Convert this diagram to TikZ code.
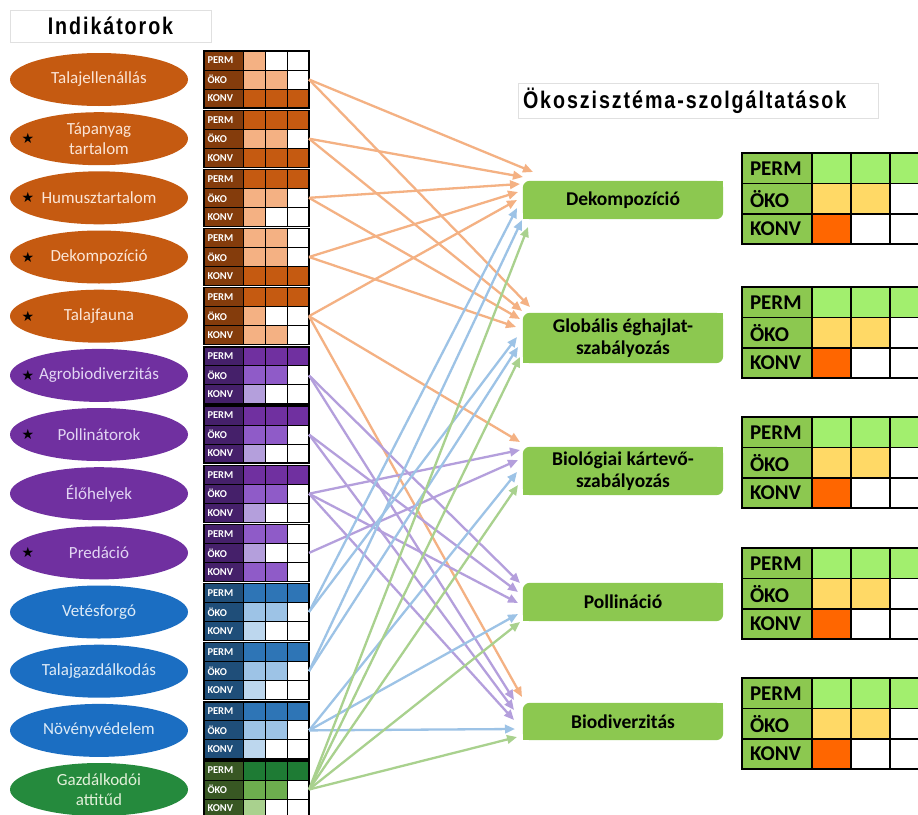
\documentclass[tikz,border=0pt]{standalone}
\usepackage{fontspec}
\setmainfont{Carlito}
\newfontfamily\headfont[FakeStretch=0.82,LetterSpace=8]{Liberation Sans}
\newfontfamily\symfont{DejaVu Sans}
\usetikzlibrary{shapes.geometric,arrows.meta,backgrounds}

% indicator colours (dark / medium / light / label column / ellipse text)
\definecolor{oD}{HTML}{C55A11}
\definecolor{oL}{HTML}{F4B183}
\definecolor{oLab}{HTML}{843C0C}
\definecolor{oTxt}{HTML}{FBE5D6}
\definecolor{pD}{HTML}{7030A0}
\definecolor{pM}{HTML}{8F5BC8}
\definecolor{pL}{HTML}{B49FDC}
\definecolor{pLab}{HTML}{45206A}
\definecolor{pTxt}{HTML}{E2D5F3}
\definecolor{bE}{HTML}{1B6EC2}
\definecolor{bD}{HTML}{2E75B6}
\definecolor{bM}{HTML}{9DC3E6}
\definecolor{bL}{HTML}{BDD7EE}
\definecolor{bLab}{HTML}{1F4E79}
\definecolor{bTxt}{HTML}{DEEBF7}
\definecolor{gE}{HTML}{258A3D}
\definecolor{gD}{HTML}{1E7B34}
\definecolor{gM}{HTML}{6DAE4E}
\definecolor{gL}{HTML}{A9D18E}
\definecolor{gLab}{HTML}{385723}
\definecolor{gTxt}{HTML}{E2F0D9}
% ecosystem service colours
\definecolor{svc}{HTML}{8CC850}
\definecolor{sLime}{HTML}{A2EF6E}
\definecolor{sGold}{HTML}{FFD966}
\definecolor{sRed}{HTML}{FF6600}
% connector colours
\definecolor{aO}{HTML}{F4B183}
\definecolor{aP}{HTML}{B49FDC}
\definecolor{aB}{HTML}{9DC3E6}
\definecolor{aG}{HTML}{A9D18E}

% indicator score grid: #1 id, #2 top, #3 label colour, #4 nine cell colours
\newcommand\igrid[4]{%
  \foreach \cc [count=\k from 0] in {#4}{%
    \pgfmathtruncatemacro\rr{\k/3}%
    \pgfmathtruncatemacro\cl{\k-3*\rr}%
    \path[fill=\cc, draw=black, line width=1pt] ({243+22*\cl},{#2+19*\rr}) rectangle ++(22,19);
  }%
  \foreach \lb/\nm [count=\k from 0] in {PERM/perm,ÖKO/oko,KONV/konv}{%
    \node[ilab, fill=#3] (#1-\nm) at (223.5,{#2+9.5+19*\k}) {\lb};
  }%
  \draw[line width=1.3pt] (204,#2) rectangle ++(105,57);
  \coordinate (#1-out) at (309,{#2+28.5});
}

% service score grid: #1 id, #2 top
\newcommand\sgrid[2]{%
  \foreach \cc [count=\k from 0] in {sLime,sLime,sLime,sGold,sGold,white,sRed,white,white}{%
    \pgfmathtruncatemacro\rr{\k/3}%
    \pgfmathtruncatemacro\cl{\k-3*\rr}%
    \path[fill=\cc, draw=black, line width=1.5pt] ({812+39*\cl},{#2+30.4*\rr}) rectangle ++(39,30.4);
  }%
  \foreach \lb/\nm [count=\k from 0] in {PERM/perm,ÖKO/oko,KONV/konv}{%
    \node[slab] (#1-\nm) at (777,{#2+15.2+30.4*\k}) {\lb};
  }%
}

\begin{document}
\begin{tikzpicture}[x=1pt,y=-1pt,
  ind/.style={ellipse, minimum width=178pt, minimum height=53pt, inner sep=0pt,
    align=center, font=\fontsize{17}{19.5}\selectfont},
  ilab/.style={rectangle, draw=black, line width=1pt, minimum width=39pt,
    minimum height=19pt, inner sep=0pt, text width=32pt, align=left, text=white,
    font=\fontsize{10.5}{11}\selectfont\bfseries},
  slab/.style={rectangle, draw=black, line width=1.5pt, fill=svc, minimum width=70pt,
    minimum height=30.4pt, inner sep=0pt, text width=54pt, align=left,
    font=\fontsize{21}{22}\selectfont\bfseries},
  svcbox/.style={rectangle, minimum width=200pt, inner sep=0pt, align=center,
    font=\fontsize{19.5}{22}\selectfont\bfseries},
  hdr/.style={draw=black!12, fill=white, line width=0.8pt,
    font=\headfont\bfseries\fontsize{24}{26}\selectfont},
  starmark/.style={font=\symfont\fontsize{14}{14}\selectfont, inner sep=0pt},
  lnk/.style={line width=2.3pt, -{Triangle[length=10pt,width=8.5pt]}}
]
\useasboundingbox (0,0) rectangle (918,814);
\begin{scope}[on background layer]
  \fill[white] (0,0) rectangle (918,814);
\end{scope}
\clip (0,0) rectangle (918,814);

% headings
\node[hdr, minimum width=201pt, minimum height=32pt, inner sep=0pt] (indhead) at (110.5,26) {Indikátorok};
\node[hdr, minimum height=35pt, text width=350pt, inner xsep=5pt, inner ysep=0pt, align=left] (eshead) at (698,100.5) {Ökoszisztéma-szolgáltatások};

% indicators
\foreach \n/\y/\fc/\tc/\txt in {
  talaj/79.5/oD/oTxt/Talajellenállás,
  tap/138.7/oD/oTxt/{Tápanyag\\tartalom},
  humusz/197.8/oD/oTxt/Humusztartalom,
  dekomp/257/oD/oTxt/Dekompozíció,
  fauna/316.2/oD/oTxt/Talajfauna,
  agro/375.4/pD/pTxt/Agrobiodiverzitás,
  pollin/434.5/pD/pTxt/Pollinátorok,
  elo/493.7/pD/pTxt/Élőhelyek,
  pred/552.9/pD/pTxt/Predáció,
  vetes/612/bE/bTxt/Vetésforgó,
  talgazd/671.2/bE/bTxt/Talajgazdálkodás,
  novved/730.4/bE/bTxt/Növényvédelem,
  attit/789.5/gE/gTxt/{Gazdálkodói\\attitűd}}{
  \node[ind, fill=\fc, text=\tc] (\n) at (99,\y) {\txt};
}
\foreach \n/\y in {tap/138.7,humusz/197.8,dekomp/257,fauna/316.2,agro/375.4,pollin/434.5,pred/552.9}{
  \node[starmark] (\n-star) at (28,\y) {★};
}

% indicator score grids
\igrid{g1}{51}{oLab}{oL,white,white,oL,oL,white,oD,oD,oD}
\igrid{g2}{110.2}{oLab}{oD,oD,oD,oL,oL,white,oD,oD,oD}
\igrid{g3}{169.3}{oLab}{oD,oD,oD,oL,oL,white,oL,white,white}
\igrid{g4}{228.5}{oLab}{oL,oL,white,oL,oL,white,oD,oD,oD}
\igrid{g5}{287.7}{oLab}{oD,oD,oD,oL,white,white,oL,oL,white}
\igrid{g6}{346.9}{pLab}{pD,pD,pD,pM,pM,white,pL,white,white}
\igrid{g7}{406}{pLab}{pD,pD,pD,pM,pM,white,pL,white,white}
\igrid{g8}{465.2}{pLab}{pD,pD,pD,pM,pM,white,pL,white,white}
\igrid{g9}{524.4}{pLab}{pM,pM,white,pL,white,white,pM,pM,white}
\igrid{g10}{583.5}{bLab}{bD,bD,bD,bM,bM,white,bL,white,white}
\igrid{g11}{642.7}{bLab}{bD,bD,bD,bM,bM,white,bL,white,white}
\igrid{g12}{701.9}{bLab}{bD,bD,bD,bM,bM,white,bL,white,white}
\igrid{g13}{761}{gLab}{gD,gD,gD,gM,gM,white,gL,white,white}

% ecosystem services
\node[svcbox, minimum height=38pt] (dek) at (623,200) {Dekompozíció};
\node[svcbox, minimum height=50pt] (glob) at (623,338) {Globális éghajlat-\\szabályozás};
\node[svcbox, minimum height=48pt] (biol) at (623,471) {Biológiai kártevő-\\szabályozás};
\node[svcbox, minimum height=38pt] (poll) at (623,602) {Pollináció};
\node[svcbox, minimum height=37pt] (biod) at (623,721.5) {Biodiverzitás};
\begin{scope}[on background layer]
  \foreach \b in {dek,glob,biol,poll,biod}{
    \fill[svc, rounded corners=7pt] (\b.south west) rectangle (\b.north east);
    \fill[svc] (\b.north east) rectangle ++(-9,9);
    \fill[svc] (\b.south west) rectangle ++(9,-9);
  }
\end{scope}

% service score grids
\sgrid{r1}{153}
\sgrid{r2}{287}
\sgrid{r3}{417}
\sgrid{r4}{548}
\sgrid{r5}{678}

% arrow tips at the services
\coordinate (dek-a) at (533,172);
\coordinate (dek-b) at (523,177);
\coordinate (dek-c) at (520,184);
\coordinate (dek-d) at (518,192);
\coordinate (dek-e) at (517,200);
\coordinate (dek-f) at (517,208);
\coordinate (dek-g) at (522,220);
\coordinate (dek-h) at (528,227);
\coordinate (glob-a) at (530,307);
\coordinate (glob-b) at (522,311);
\coordinate (glob-c) at (520,319);
\coordinate (glob-d) at (516,327);
\coordinate (glob-e) at (517,337);
\coordinate (glob-f) at (518,347);
\coordinate (glob-g) at (520,357);
\coordinate (biol-a) at (520,442);
\coordinate (biol-b) at (520,450);
\coordinate (biol-c) at (518,460);
\coordinate (biol-d) at (517,472);
\coordinate (biol-e) at (518,485);
\coordinate (poll-a) at (520,583);
\coordinate (poll-b) at (518,592);
\coordinate (poll-c) at (518,603);
\coordinate (poll-d) at (518,614);
\coordinate (poll-e) at (520,622);
\coordinate (biod-a) at (522,697);
\coordinate (biod-b) at (514,700);
\coordinate (biod-c) at (514,710);
\coordinate (biod-d) at (514,720);
\coordinate (biod-e) at (515,729);
\coordinate (biod-f) at (517,737);

% connectors
\foreach \s/\t in {g1/dek-a,g1/glob-a,g2/dek-b,g2/glob-b,g3/dek-c,g3/glob-c,
                   g4/dek-d,g4/glob-d,g5/dek-e,g5/biol-a,g5/biod-a}
  \draw[lnk, aO] (\s-out) -- (\t);
\foreach \s/\t in {g6/poll-a,g6/biod-b,g7/poll-b,g7/biod-c,g8/biol-b,g8/poll-c,
                   g8/biod-d,g9/biol-c}
  \draw[lnk, aP] (\s-out) -- (\t);
\foreach \s/\t in {g10/dek-f,g10/glob-e,g11/dek-g,g11/glob-f,g12/biol-d,g12/poll-d,
                   g12/biod-e}
  \draw[lnk, aB] (\s-out) -- (\t);
\foreach \t in {dek-h,glob-g,biol-e,poll-e,biod-f}
  \draw[lnk, aG] (g13-out) -- (\t);
\end{tikzpicture}
\end{document}
